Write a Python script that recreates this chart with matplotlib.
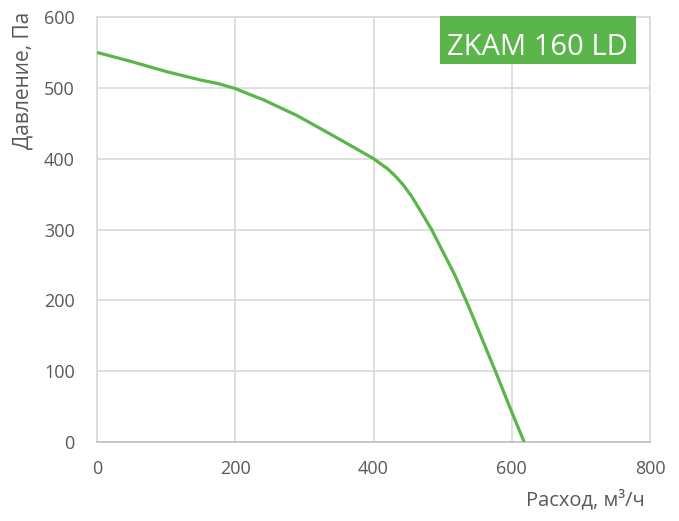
import matplotlib
matplotlib.use("Agg")
import matplotlib.pyplot as plt
from matplotlib.patches import Rectangle

# fan curve ZKAM 160 LD
flow = [0, 50, 100, 150, 175, 200, 220, 241, 289, 337, 375, 400, 407, 420,
        431, 443, 455, 470, 484, 496, 507, 518, 536, 556, 578, 598, 618]
pressure = [550, 537, 523, 511, 506, 499, 491, 483, 461, 435, 414, 400, 395,
            386, 376, 363, 347, 323, 300, 277, 256, 235, 195, 148, 96, 47, 0]
x_ticks = [0, 200, 400, 600, 800]
y_ticks = [0, 100, 200, 300, 400, 500, 600]
model = "ZKAM 160 LD"

GREEN = "#5ab64b"
GREY_TXT = "#595959"

plt.rcParams["font.family"] = ["Open Sans", "DejaVu Sans"]

fig = plt.figure(figsize=(6.79, 5.21), dpi=100)
ax = fig.add_axes([0.1429, 0.1516, 0.8144, 0.8158])

ax.plot(flow, pressure, color=GREEN, lw=2.3, solid_joinstyle="round",
        solid_capstyle="butt", zorder=3)

ax.set_xlim(0, 800)
ax.set_ylim(0, 600)
ax.set_xticks(x_ticks)
ax.set_yticks(y_ticks)
ax.grid(True, color="#d9d9d9", lw=1.2)
ax.set_axisbelow(True)
for s in ("top", "right", "left"):
    ax.spines[s].set_color("#d9d9d9")
    ax.spines[s].set_linewidth(1.2)
ax.spines["bottom"].set_color("#bfbfbf")
ax.spines["bottom"].set_linewidth(1.2)
ax.tick_params(length=0, labelsize=13, colors=GREY_TXT)
ax.tick_params(axis="x", pad=13)
ax.tick_params(axis="y", pad=16)

ax.set_xlabel("Расход, м³/ч", fontsize=14.5, color=GREY_TXT, ha="right", va="top")
ax.xaxis.set_label_coords(0.99, -0.112)
ax.set_ylabel("Давление, Па", fontsize=15, color=GREY_TXT, ha="right",
              va="center", rotation_mode="anchor")
ax.yaxis.set_label_coords(-0.134, 1.012)

# model badge, top right
fig.patches.append(Rectangle((0.648, 0.8772), 0.2887, 0.0921,
                             transform=fig.transFigure, fc=GREEN, ec="none",
                             zorder=4))
fig.text(0.7916, 0.8944, model, ha="center", va="baseline", fontsize=21,
         color="white", zorder=5)

fig.savefig("out.png", dpi=100)
